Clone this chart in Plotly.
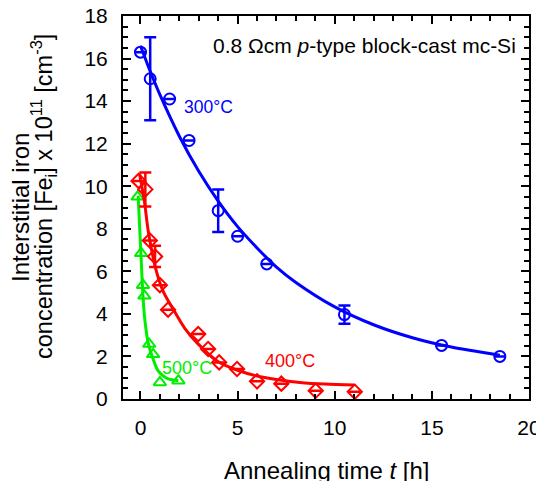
import plotly.graph_objects as go

# ---------------- data ----------------
# 300 °C  (blue circles)
t300 = [0.0, 0.5, 1.5, 2.5, 4.0, 5.0, 6.5, 10.5, 15.5, 18.5]
fe300 = [16.3, 15.05, 14.1, 12.15, 8.85, 7.65, 6.35, 3.97, 2.52, 2.0]
err300 = [None, 1.95, None, None, 1.0, None, None, 0.43, None, None]
fit_t300 = [0.0, 0.5, 1.0, 2.0, 3.0, 4.0, 5.0, 6.0, 7.0, 8.0, 10.0, 12.0, 14.0, 16.0, 18.5]
fit_fe300 = [16.6, 15.4, 14.3, 12.35, 10.7, 9.3, 8.1, 7.1, 6.2, 5.48, 4.33, 3.49, 2.88, 2.44, 2.06]

# 400 °C  (red diamonds)
t400 = [-0.1, 0.25, 0.48, 0.75, 1.0, 1.42, 2.97, 3.48, 4.05, 4.97, 6.0, 7.25, 9.02, 11.03]
fe400 = [10.25, 9.85, 7.45, 6.7, 5.35, 4.2, 3.05, 2.35, 1.72, 1.41, 0.83, 0.72, 0.39, 0.34]
err400 = [None, 0.8, None, 0.5, None, None, None, None, None, None, None, None, None, None]
fit_t400 = [-0.05, 0.2, 0.4, 0.82, 1.2, 1.7, 2.3, 2.9, 4.0, 5.0, 6.0, 7.0, 8.2, 9.5, 11.0]
fit_fe400 = [10.6, 9.3, 7.9, 6.0, 5.0, 4.2, 3.3, 2.65, 1.75, 1.35, 1.08, 0.92, 0.78, 0.7, 0.66]

# 500 °C  (green triangles)
t500 = [-0.15, 0.03, 0.13, 0.2, 0.45, 0.65, 1.0, 1.95]
fe500 = [9.5, 6.85, 5.35, 4.85, 2.58, 2.1, 0.78, 0.86]
fit_t500 = [-0.12, 0.05, 0.13, 0.22, 0.39, 0.65, 0.9, 1.15, 1.42, 1.7, 1.95]
fit_fe500 = [9.55, 6.3, 4.8, 3.76, 2.66, 1.88, 1.33, 1.1, 0.95, 0.89, 0.86]

# axis ticks
x_range = [-0.9, 20]
y_range = [0, 18]
x_dtick, x_minor = 5, 1
y_dtick, y_minor = 2, 0.5

BLUE, RED, GREEN = "#0000ff", "#ff0000", "#00ee00"
FONT = "Liberation Sans, Arial, Helvetica, sans-serif"

# page offset of the plot div (default body margin)
OFF = 8

fig = go.Figure()

def add_series(tf, yf, t, y, err, color, symbol):
    fig.add_trace(go.Scatter(x=tf, y=yf, mode="lines",
                             line=dict(color=color, width=3, shape="spline", smoothing=0.8),
                             showlegend=False, hoverinfo="skip"))
    kw = {}
    if err is not None:
        kw["error_y"] = dict(type="data", array=err, visible=True, color=color, thickness=2.5, width=6)
    fig.add_trace(go.Scatter(
        x=t, y=y, mode="markers", showlegend=False,
        marker=dict(symbol=symbol, size=11, color=color, line=dict(color=color, width=2)),
        **kw,
    ))

add_series(fit_t500, fit_fe500, t500, fe500, None, GREEN, "triangle-up-open")
add_series(fit_t400, fit_fe400, t400, fe400, err400, RED, "diamond-open")
add_series(fit_t300, fit_fe300, t300, fe300, err300, BLUE, "circle-open")

axis_common = dict(
    showline=True, linecolor="black", linewidth=2, mirror="allticks",
    ticks="inside", ticklen=8, tickwidth=2, tickcolor="black",
    showgrid=False, zeroline=False, automargin=False, ticklabeloverflow="allow",
    tickfont=dict(family=FONT, size=21, color="black"),
)

fig.update_xaxes(range=x_range, tick0=0, dtick=x_dtick, ticklabelstandoff=9,
                 minor=dict(dtick=x_minor, ticks="inside", ticklen=5, tickwidth=2, tickcolor="black"),
                 **axis_common)
fig.update_yaxes(range=y_range, tick0=0, dtick=y_dtick, ticklabelstandoff=9,
                 minor=dict(dtick=y_minor, ticks="inside", ticklen=5, tickwidth=2, tickcolor="black"),
                 **axis_common)

def A(**k):
    k.setdefault("showarrow", False)
    return k

PL, PT, PW, PH = 123, 16, 406, 383   # plot area in page pixels (reference)

def px(xp):
    return (xp - PL) / PW

def py(yp):
    return (PT + PH - yp) / PH

ann = [
    A(x=19.45, y=16.6, xref="x", yref="y", xanchor="right", yanchor="middle",
      text="0.8 Ωcm <i>p</i>-type block-cast mc-Si", font=dict(family=FONT, size=21, color="black")),
    A(x=2.15, y=13.7, xref="x", yref="y", xanchor="left", yanchor="middle",
      text="300°C", font=dict(family=FONT, size=17.5, color=BLUE)),
    A(x=6.29, y=1.78, xref="x", yref="y", xanchor="left", yanchor="middle",
      text="400°C", font=dict(family=FONT, size=18, color=RED)),
    A(x=1.02, y=1.47, xref="x", yref="y", xanchor="left", yanchor="middle",
      text="500°C", font=dict(family=FONT, size=18, color=GREEN)),
    # axis titles
    A(x=px(326), y=py(470), xref="paper", yref="paper", xanchor="center", yanchor="middle",
      text="Annealing time <i>t</i> [h]", font=dict(family=FONT, size=24, color="black")),
    A(x=px(20), y=py(207), xref="paper", yref="paper", xanchor="center", yanchor="middle",
      textangle=-90, text="Interstitial iron", font=dict(family=FONT, size=24, color="black")),
    A(x=px(43), y=py(197), xref="paper", yref="paper", xanchor="center", yanchor="middle",
      textangle=-90, text="concentration [Fe<sub>i</sub>] x 10<sup>11</sup> [cm<sup>-3</sup>]",
      font=dict(family=FONT, size=23.5, color="black")),
]

W, H = 544 - OFF, 481 - OFF
fig.update_layout(
    width=W, height=H,
    margin=dict(l=PL - OFF, r=W - (PL - OFF) - PW, t=PT - OFF, b=H - (PT - OFF) - PH),
    paper_bgcolor="white", plot_bgcolor="white",
    font=dict(family=FONT, color="black"),
    annotations=ann,
    showlegend=False,
)

fig.write_html("out.html")
